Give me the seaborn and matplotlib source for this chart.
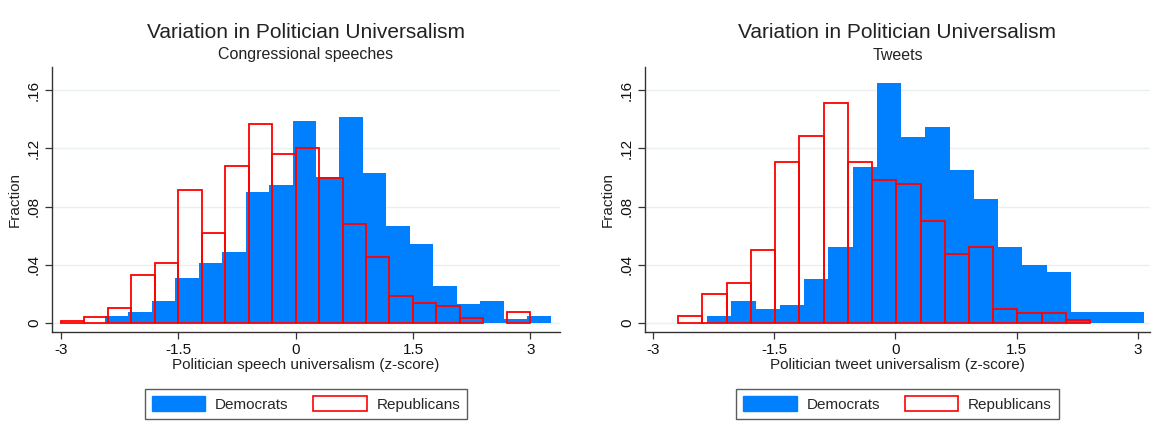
import numpy as np
import pandas as pd
import matplotlib
matplotlib.use("Agg")
import matplotlib.pyplot as plt
import seaborn as sns
from matplotlib.patches import Patch

# ---- data (fractions per bin) ----
speech_dem_start = -2.44
speech_dem = [0.0048, 0.0076, 0.0154, 0.0309, 0.0413, 0.0488, 0.0901, 0.0949, 0.1389,
              0.1002, 0.1417, 0.1032, 0.0667, 0.0541, 0.0254, 0.0131, 0.0154, 0.0028, 0.0048]
speech_rep_start = -3.0
speech_rep = [0.0016, 0.0039, 0.0101, 0.0328, 0.0415, 0.0912, 0.0621, 0.1077, 0.1371, 0.1160,
              0.1201, 0.0997, 0.0683, 0.0452, 0.0183, 0.0140, 0.0119, 0.0037, 0.0, 0.0078]
tweet_dem_start = -2.33
tweet_dem = [0.0048, 0.0151, 0.0099, 0.0124, 0.0303, 0.0523, 0.1073, 0.1650, 0.1279,
             0.1350, 0.1052, 0.0853, 0.0523, 0.0399, 0.0351, 0.0073, 0.0073, 0.0073]
tweet_rep_start = -2.69
tweet_rep = [0.0046, 0.0197, 0.0273, 0.0502, 0.1109, 0.1286, 0.1513, 0.1107, 0.0981,
             0.0956, 0.0704, 0.0477, 0.0525, 0.0096, 0.0071, 0.0071, 0.0021]
bin_width = 0.3

titles = ["Variation in Politician Universalism", "Variation in Politician Universalism"]
subtitles = ["Congressional speeches", "Tweets"]
xlabels = ["Politician speech universalism (z-score)", "Politician tweet universalism (z-score)"]
ylabel = "Fraction"
xticks = [-3, -1.5, 0, 1.5, 3]
xticklabels = ["-3", "-1.5", "0", "1.5", "3"]
yticks = [0, 0.04, 0.08, 0.12, 0.16]
yticklabels = ["0", ".04", ".08", ".12", ".16"]
legend_labels = ["Democrats", "Republicans"]

BLUE = "#0080FF"
RED = "#FF0000"

sns.set_theme(style="white")
plt.rcParams["font.family"] = ["Liberation Sans", "DejaVu Sans"]

fig = plt.figure(figsize=(11.6, 4.25), dpi=100)
W, H = 1160, 425
axes_px = [(52, 67, 560, 332), (645, 67, 1150, 332)]
xlims = [(-3.115, 3.38), (-3.10, 3.15)]

panels = [(speech_dem_start, speech_dem, speech_rep_start, speech_rep),
          (tweet_dem_start, tweet_dem, tweet_rep_start, tweet_rep)]


def binned(start, vals):
    edges = np.round(start + bin_width * np.arange(len(vals) + 1), 4)
    centers = (edges[:-1] + edges[1:]) / 2
    return pd.DataFrame({"x": centers, "w": vals}), [float(e) for e in edges]


for i, (ds, dv, rs, rv) in enumerate(panels):
    x0, y0, x1, y1 = axes_px[i]
    ax = fig.add_axes([x0 / W, 1 - y1 / H, (x1 - x0) / W, (y1 - y0) / H])
    ddf, d_edges = binned(ds, dv)
    rdf, r_edges = binned(rs, rv)
    for yt in yticks:
        ax.axhline(yt, color="#E8F0F2", lw=1.0, zorder=0)
    sns.histplot(data=ddf, x="x", weights="w", bins=d_edges, stat="count", fill=True,
                 color=BLUE, alpha=1, linewidth=0, ax=ax, zorder=2)
    sns.histplot(data=rdf, x="x", weights="w", bins=r_edges, stat="count", fill=False,
                 element="bars", color=RED, linewidth=1.3, ax=ax, zorder=3)
    # empty bins are not drawn in the original
    for p in ax.patches:
        if p.get_height() == 0:
            p.set_visible(False)
    ax.set_xlim(*xlims[i])
    ax.set_ylim(-0.0062, 0.176)
    ax.set_xticks(xticks)
    ax.set_xticklabels(xticklabels, fontsize=11)
    ax.set_yticks(yticks)
    ax.set_yticklabels(yticklabels, fontsize=11, rotation=90, va="center")
    ax.set_xlabel(xlabels[i], fontsize=11, labelpad=1, color="#222222")
    ax.set_ylabel(ylabel, fontsize=11, labelpad=4, color="#222222")
    for s in ["top", "right"]:
        ax.spines[s].set_visible(False)
    for s in ["left", "bottom"]:
        ax.spines[s].set_color("#333333")
        ax.spines[s].set_linewidth(1.0)
    ax.tick_params(axis="both", which="major", direction="out", length=5, width=0.9,
                   color="#333333", labelcolor="#111111", left=True, bottom=True, pad=3)
    cx = (x0 + x1) / 2 / W
    fig.text(cx, 1 - 32 / H, titles[i], ha="center", va="center", fontsize=15, color="#222222")
    fig.text(cx, 1 - 55 / H, subtitles[i], ha="center", va="center", fontsize=11.5, color="#222222")
    handles = [Patch(facecolor=BLUE, edgecolor=BLUE, linewidth=1),
               Patch(facecolor="white", edgecolor=RED, linewidth=1.2)]
    leg = ax.legend(handles, legend_labels, loc="center", ncol=2,
                    bbox_to_anchor=(0.5, -0.272), frameon=True, fancybox=False,
                    edgecolor="#333333", fontsize=11, handlelength=3.5, handleheight=1.1,
                    columnspacing=1.6, handletextpad=0.65, borderpad=0.45, borderaxespad=0)
    leg.get_frame().set_linewidth(1.0)

fig.savefig("out.png", dpi=100, facecolor="white")
